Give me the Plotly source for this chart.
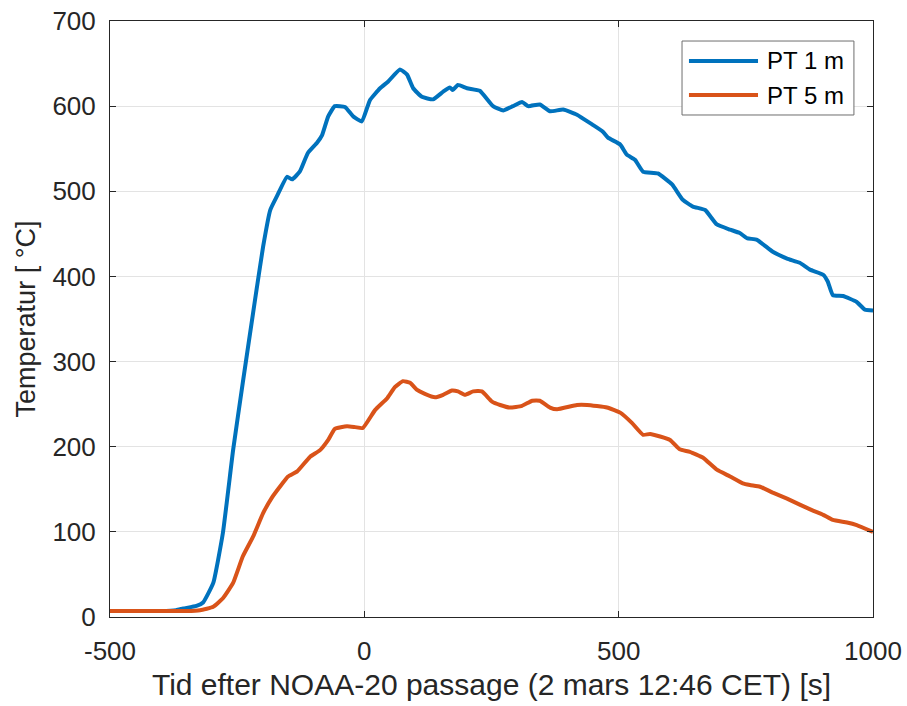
import plotly.graph_objects as go

# Time after NOAA-20 passage [s] and temperature [°C] for the two plate thermometers
t_pt1 = [-500, -450, -400, -370, -356, -330, -317, -297, -278, -258, -239, -215, -199, -185,
         -172, -152, -142, -127, -111, -93, -83, -71, -58, -38, -22, -5, 11, 31, 47, 70,
         84, 96, 113, 135, 155, 168, 174, 184, 202, 227, 253, 273, 292, 310, 322, 345,
         365, 391, 418, 449, 469, 479, 503, 516, 532, 548, 577, 605, 626, 646, 670, 693,
         719, 738, 752, 772, 803, 831, 856, 876, 902, 911, 921, 941, 968, 984, 1000]
temp_pt1 = [7, 7, 7, 8, 10, 13, 17, 40, 99, 196, 275, 372, 435, 478,
            494, 517, 514, 523, 545, 557, 566, 588, 600, 599, 588, 582, 607, 621, 629, 643,
            637, 621, 611, 608, 617, 622, 619, 625, 621, 618, 600, 595, 600, 605, 600, 602,
            594, 596, 590, 578, 570, 563, 555, 543, 537, 523, 521, 508, 490, 482, 478, 461,
            455, 451, 445, 443, 429, 421, 416, 408, 402, 394, 378, 377, 370, 361, 360]

t_pt5 = [-500, -450, -400, -350, -323, -297, -278, -258, -239, -219, -199, -182, -166, -150,
         -132, -107, -87, -71, -58, -34, -18, -3, 21, 45, 60, 76, 90, 103, 119, 139,
         155, 172, 184, 198, 214, 231, 251, 267, 286, 310, 330, 345, 365, 379, 418, 438,
         477, 503, 526, 548, 562, 601, 620, 640, 666, 693, 719, 744, 758, 778, 803, 831,
         856, 882, 902, 921, 949, 968, 1000]
temp_pt5 = [7, 7, 7, 7, 8, 12, 22, 40, 71, 94, 122, 140, 153, 165,
            171, 188, 196, 208, 221, 224, 223, 222, 243, 257, 270, 277, 275, 267, 262, 258,
            261, 266, 265, 261, 265, 265, 253, 249, 246, 248, 254, 254, 246, 244, 249, 249,
            246, 240, 228, 214, 215, 208, 197, 194, 187, 173, 165, 157, 155, 153, 146, 139,
            132, 125, 120, 114, 111, 108, 100]

series_names = ["PT 1 m", "PT 5 m"]
series_colors = ["#0072BD", "#D95319"]

x_ticks = [-500, 0, 500, 1000]
x_tick_labels = ["-500", "0", "500", "1000"]
y_ticks = [0, 100, 200, 300, 400, 500, 600, 700]

font_family = "Liberation Sans, Arial, sans-serif"
ink = "#262626"

fig = go.Figure()
for xs, ys, name, color in zip([t_pt1, t_pt5], [temp_pt1, temp_pt5], series_names, series_colors):
    fig.add_trace(go.Scatter(x=xs, y=ys, mode="lines", name=name, showlegend=False,
                             line=dict(color=color, width=4, shape="spline", smoothing=0.4)))

axis_common = dict(
    showline=True, linecolor=ink, linewidth=1, mirror="ticks",
    ticks="inside", ticklen=6, tickcolor=ink,
    showgrid=True, gridcolor="#e3e3e3", gridwidth=1,
    zeroline=False, automargin=False,
    tickfont=dict(family=font_family, size=26, color=ink),
)

# Boxed legend in the upper right corner (paper coordinates of the plot area)
box_x0, box_x1, box_y0, box_y1 = 0.7497, 0.975, 0.8423, 0.9664
key_x0, key_x1, label_x = 0.7588, 0.8493, 0.8584
row_y = [0.9329, 0.8758]

shapes = [dict(type="rect", xref="paper", yref="paper",
               x0=box_x0, x1=box_x1, y0=box_y0, y1=box_y1,
               line=dict(color="#6e6e6e", width=1), fillcolor="white", layer="above")]
annotations = []
for name, color, yy in zip(series_names, series_colors, row_y):
    shapes.append(dict(type="line", xref="paper", yref="paper",
                       x0=key_x0, x1=key_x1, y0=yy, y1=yy,
                       line=dict(color=color, width=4), layer="above"))
    annotations.append(dict(xref="paper", yref="paper", x=label_x, y=yy,
                            xanchor="left", yanchor="middle", showarrow=False,
                            text=name, font=dict(family=font_family, size=24, color="black")))

fig.update_layout(
    width=907, height=706,
    margin=dict(l=110, r=34, t=21, b=89),
    paper_bgcolor="white", plot_bgcolor="white",
    font=dict(family=font_family, color=ink),
    xaxis=dict(range=[-500, 1000], tickvals=x_ticks, ticktext=x_tick_labels,
               ticklabelstandoff=11,
               title=dict(text="Tid efter NOAA-20 passage (2 mars 12:46 CET) [s]",
                          font=dict(family=font_family, size=30, color=ink), standoff=8),
               **axis_common),
    yaxis=dict(range=[0, 700], tickvals=y_ticks, ticklabelstandoff=8,
               title=dict(text="Temperatur [ °C]",
                          font=dict(family=font_family, size=27, color=ink), standoff=8),
               **axis_common),
    shapes=shapes,
    annotations=annotations,
    showlegend=False,
)

fig.write_html("out.html")
